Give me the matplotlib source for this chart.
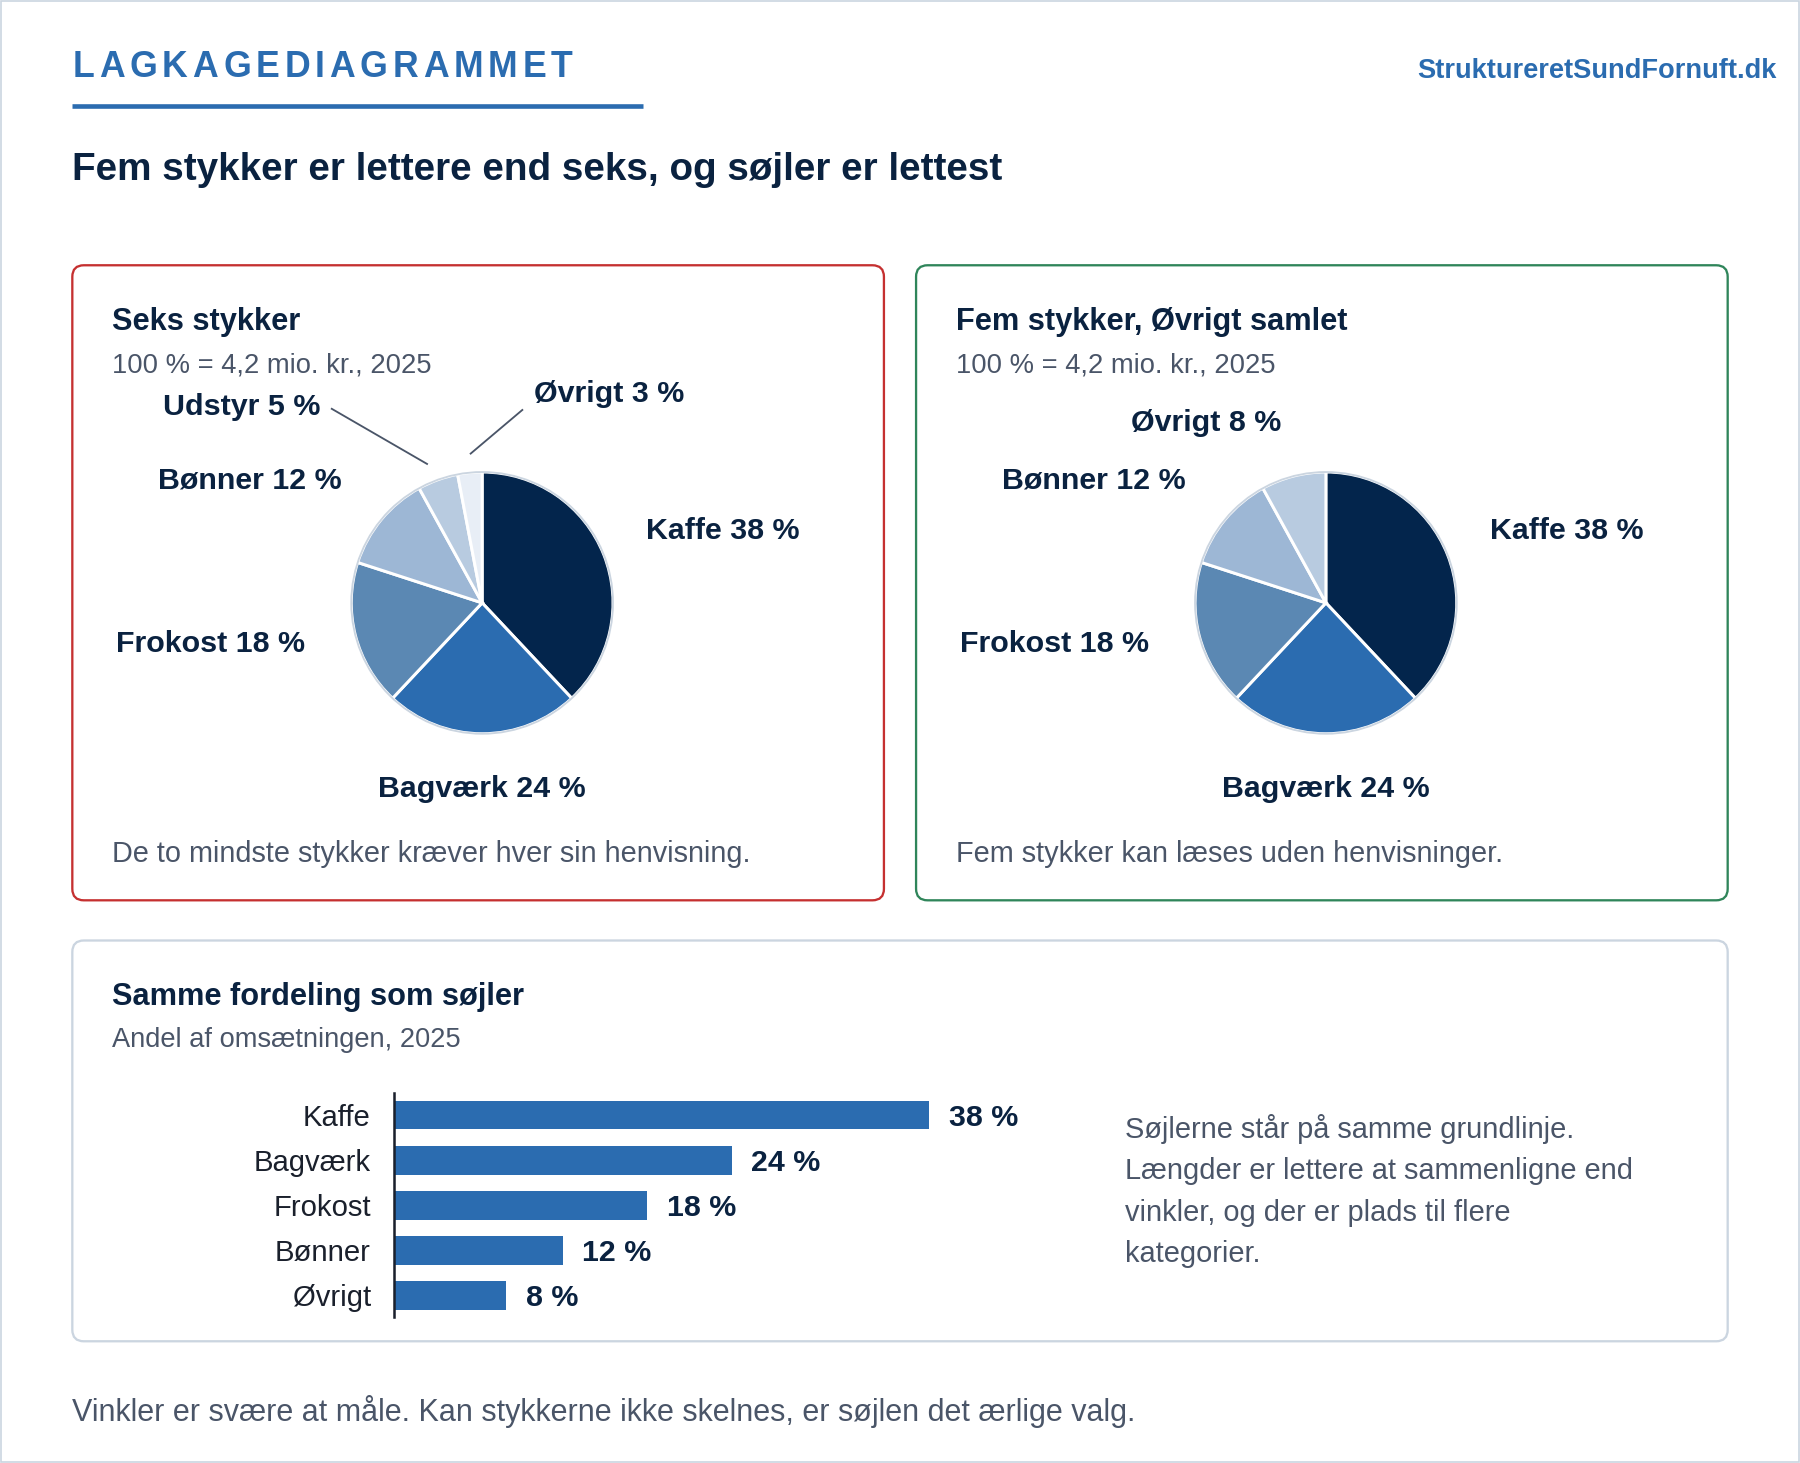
import numpy as np
import matplotlib
matplotlib.use("Agg")
import matplotlib.pyplot as plt
from matplotlib.patches import FancyBboxPatch, Circle, Rectangle

plt.rcParams['font.family'] = ['Liberation Sans', 'DejaVu Sans']

# data
pie6_labels = ["Kaffe", "Bagværk", "Frokost", "Bønner", "Udstyr", "Øvrigt"]
pie6_values = [38, 24, 18, 12, 5, 3]
pie6_colors = ["#03254c", "#2b6cb0", "#5b88b3", "#9db7d5", "#b8cbe0", "#e8eef6"]

pie5_labels = ["Kaffe", "Bagværk", "Frokost", "Bønner", "Øvrigt"]
pie5_values = [38, 24, 18, 12, 8]
pie5_colors = ["#03254c", "#2b6cb0", "#5b88b3", "#9db7d5", "#b8cbe0"]

bar_labels = ["Kaffe", "Bagværk", "Frokost", "Bønner", "Øvrigt"]
bar_values = [38, 24, 18, 12, 8]

NAVY = "#0a2240"
BLUE = "#2b6cb0"
GRAY = "#4a5568"

W, H = 1568, 1274          # layout units (reference display px)
S = 1800 / W               # real px per layout unit


def pt(px):
    return px * S * 0.72


fig = plt.figure(figsize=(18, 14.63), dpi=100)
bg = fig.add_axes([0, 0, 1, 1])
bg.set_xlim(0, W)
bg.set_ylim(H, 0)
bg.axis("off")


def fax(x0, y0, w, h):
    # axes rect from layout units (top-left origin)
    return fig.add_axes([x0 / W, 1 - (y0 + h) / H, w / W, h / H])


# outer frame
bg.add_patch(Rectangle((1, 1), W - 2, H - 2, fill=False, ec="#cbd5e0", lw=1.2))

# header with tracking
renderer = fig.canvas.get_renderer()
word = "LAGKAGEDIAGRAMMET"
x = 63
for ch in word:
    t = bg.text(x, 67, ch, fontsize=pt(31), fontweight="bold", color=BLUE, va="baseline")
    w = t.get_window_extent(renderer).width / S
    x += w + 4.15
bg.plot([63, 560], [92, 92], color=BLUE, lw=4 * S * 0.72, solid_capstyle="butt")
bg.text(1548, 68, "StruktureretSundFornuft.dk", fontsize=pt(23.8), fontweight="bold",
        color=BLUE, ha="right", va="baseline")
bg.text(63, 157, "Fem stykker er lettere end seks, og søjler er lettest", fontsize=pt(33.6),
        fontweight="bold", color=NAVY, va="baseline")

# panels
for (x0, y0, x1, y1, col) in [(63, 231, 770, 784, "#c53030"),
                              (798, 231, 1505, 784, "#2f855a"),
                              (63, 819, 1505, 1168, "#cbd5e0")]:
    bg.add_patch(FancyBboxPatch((x0, y0), x1 - x0, y1 - y0,
                                boxstyle="round,pad=0,rounding_size=10",
                                fill=False, ec=col, lw=2 * S * 0.72))


def panel_text(x0, title, sub, note):
    bg.text(x0, 287, title, fontsize=pt(26.8), fontweight="bold", color=NAVY, va="baseline")
    bg.text(x0, 324, sub, fontsize=pt(23.9), color=GRAY, va="baseline")
    bg.text(x0, 751, note, fontsize=pt(25.2), color=GRAY, va="baseline")


def draw_pie(cx, cy, r, values, colors):
    a = fax(cx - 1.25 * r, cy - 1.25 * r, 2.5 * r, 2.5 * r)
    a.pie(values, colors=colors, startangle=90, counterclock=False,
          wedgeprops=dict(edgecolor="white", linewidth=2.6 * S * 0.72))
    a.add_patch(Circle((0, 0), 1, fill=False, ec="#cbd5e0", lw=1.6 * S * 0.72))
    a.set_xlim(-1.25, 1.25)
    a.set_ylim(-1.25, 1.25)
    a.axis("off")


# left panel
panel_text(98, "Seks stykker", "100 % = 4,2 mio. kr., 2025",
           "De to mindste stykker kræver hver sin henvisning.")
draw_pie(420, 525, 114, pie6_values, pie6_colors)
lab = dict(fontsize=pt(26.5), fontweight="bold", color=NAVY, va="baseline")
bg.text(563, 469, f"{pie6_labels[0]} {pie6_values[0]} %", **lab)
bg.text(420, 694, f"{pie6_labels[1]} {pie6_values[1]} %", ha="center", **lab)
bg.text(266, 568, f"{pie6_labels[2]} {pie6_values[2]} %", ha="right", **lab)
bg.text(298, 425, f"{pie6_labels[3]} {pie6_values[3]} %", ha="right", **lab)
bg.text(279, 361, f"{pie6_labels[4]} {pie6_values[4]} %", ha="right", **lab)
bg.text(465, 350, f"{pie6_labels[5]} {pie6_values[5]} %", **lab)
bg.plot([289, 372], [356, 404], color=GRAY, lw=1.6 * S * 0.72)
bg.plot([455, 410], [357, 395], color=GRAY, lw=1.6 * S * 0.72)

# right panel
panel_text(833, "Fem stykker, Øvrigt samlet", "100 % = 4,2 mio. kr., 2025",
           "Fem stykker kan læses uden henvisninger.")
draw_pie(1155, 525, 114, pie5_values, pie5_colors)
bg.text(1298, 469, f"{pie5_labels[0]} {pie5_values[0]} %", **lab)
bg.text(1155, 694, f"{pie5_labels[1]} {pie5_values[1]} %", ha="center", **lab)
bg.text(1001, 568, f"{pie5_labels[2]} {pie5_values[2]} %", ha="right", **lab)
bg.text(1033, 425, f"{pie5_labels[3]} {pie5_values[3]} %", ha="right", **lab)
bg.text(1051, 375, f"{pie5_labels[4]} {pie5_values[4]} %", ha="center", **lab)

# bottom panel
bg.text(98, 875, "Samme fordeling som søjler", fontsize=pt(26.8), fontweight="bold",
        color=NAVY, va="baseline")
bg.text(98, 912, "Andel af omsætningen, 2025", fontsize=pt(23.8), color=GRAY, va="baseline")

bx = fax(343, 952, 50 * 12.27, 195)
ypos = np.arange(len(bar_values))
bx.barh(ypos, bar_values, height=0.64, color=BLUE, edgecolor="none")
bx.set_xlim(0, 50)
bx.set_ylim(len(bar_values) - 1 + 0.484, -0.484)
bx.set_yticks(ypos)
bx.set_yticklabels(bar_labels, fontsize=pt(25.5), color="#1a202c")
bx.tick_params(axis="y", length=0, pad=20 * S * 0.72)
bx.set_xticks([])
for s in ["top", "right", "bottom"]:
    bx.spines[s].set_visible(False)
bx.spines["left"].set_color("#1a202c")
bx.spines["left"].set_linewidth(2.2 * S * 0.72)
bx.patch.set_alpha(0)
for i, v in enumerate(bar_values):
    bx.annotate(f"{v} %", (v, i), xytext=(17 * S * 0.72, 0), textcoords="offset points",
                fontsize=pt(26.5), fontweight="bold", color=NAVY, va="center_baseline")

side = ["Søjlerne står på samme grundlinje.",
        "Længder er lettere at sammenligne end",
        "vinkler, og der er plads til flere",
        "kategorier."]
for k, line in enumerate(side):
    bg.text(980, 991 + 36 * k, line, fontsize=pt(25.3), color=GRAY, va="baseline")

bg.text(63, 1237, "Vinkler er svære at måle. Kan stykkerne ikke skelnes, er søjlen det ærlige valg.",
        fontsize=pt(26.6), color=GRAY, va="baseline")

fig.savefig("out.png", dpi=100)
